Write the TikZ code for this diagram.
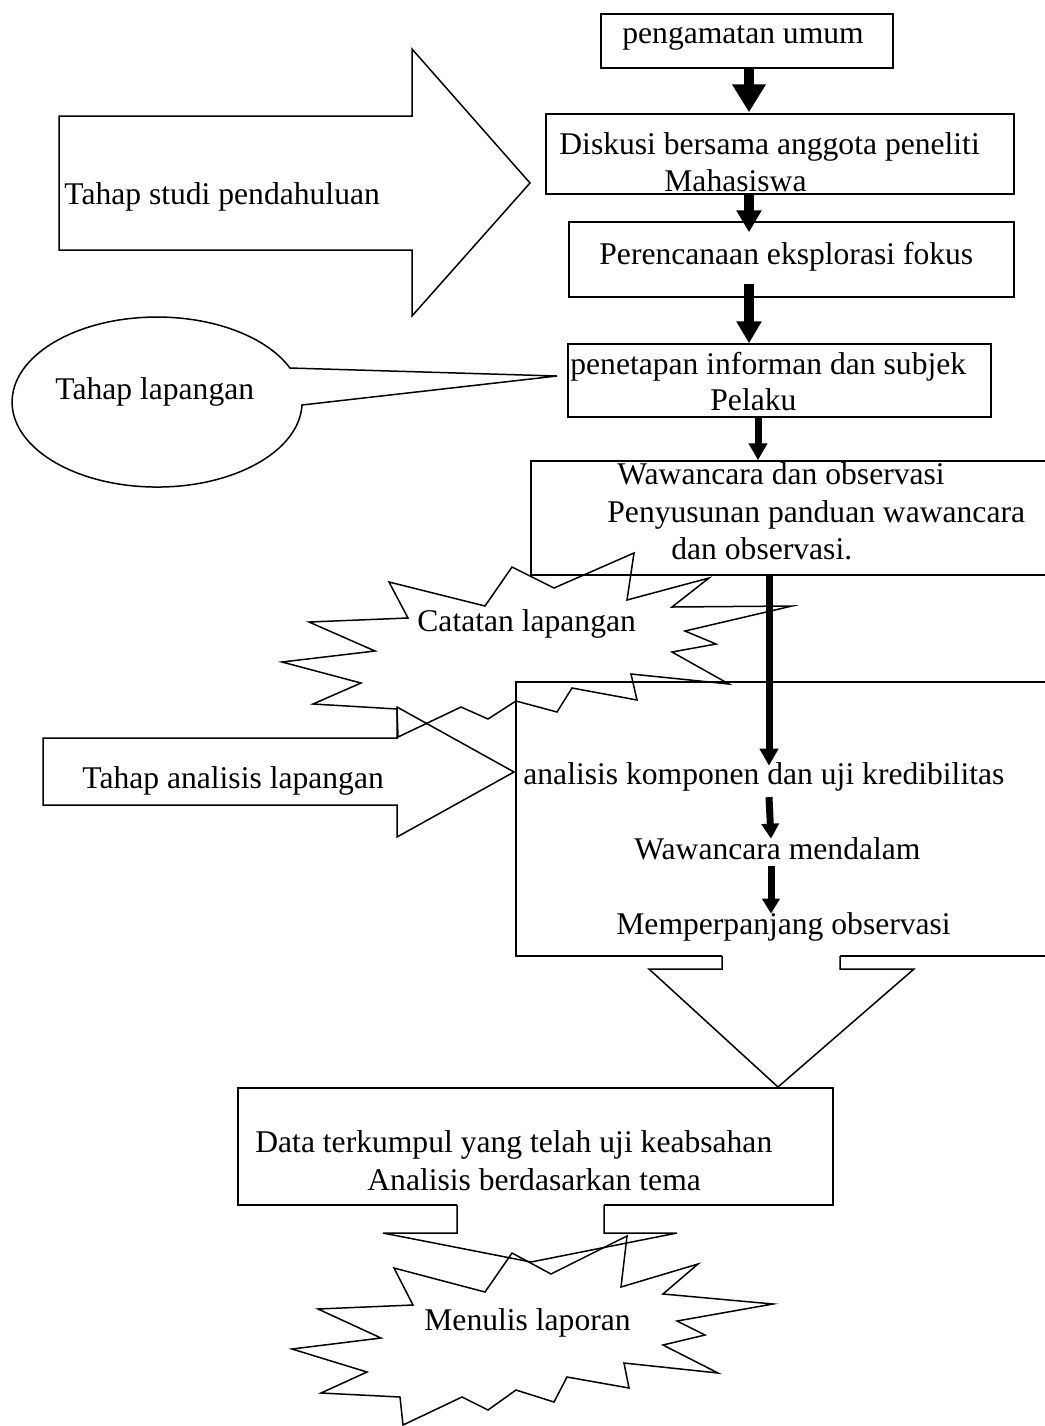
\documentclass[tikz,border=0pt]{standalone}
\usepackage{fontspec}
\setmainfont{Liberation Serif}
\usetikzlibrary{arrows.meta,fit}
\begin{document}
\begin{tikzpicture}[x=0.5pt,y=-0.5pt,
  outl/.style={draw=black, line width=0.75pt, line join=miter},
  boxst/.style={draw=black, line width=0.75pt, inner sep=0pt},
  lbl/.style={anchor=base west, inner sep=0pt, font=\fontsize{15.8}{18.5}\selectfont},
  arrA/.style={line width=5pt, -{Triangle[length=14pt,width=16pt]}},
  arrB/.style={line width=5pt, -{Triangle[length=11pt,width=12pt]}},
  arrC/.style={line width=3.5pt, -{Triangle[length=8.5pt,width=9pt]}},
  arrD/.style={line width=3.5pt, -{Triangle[length=7.5pt,width=8.5pt]}}]
\useasboundingbox (0,0) rectangle (1045,1426);
\fill[white] (0,0) rectangle (1045,1426);
\clip (0,0) rectangle (1045,1426);

\coordinate (xa) at (749,0);
\coordinate (xb) at (758,0);
\coordinate (xc) at (769,0);
\coordinate (xd) at (771,0);

% ---- right column boxes
\node[boxst, fit={(601,14) (893,68)}] (b1) {};
\node[boxst, fit={(546,114) (1014,194)}] (b2) {};
\node[boxst, fit={(569,222) (1014,297)}] (b3) {};
\node[boxst, fit={(568,344) (991,417)}] (b4) {};
\node[boxst, fit={(531,461) (1070,575)}] (b5) {};

\node[lbl] (t1) at (622,43) {pengamatan umum};
\node[lbl] (t2a) at (559,154) {Diskusi bersama anggota peneliti};
\node[lbl] (t2b) at (664,191) {Mahasiswa};
\node[lbl] (t3) at (599,264) {Perencanaan eksplorasi fokus};
\node[lbl] (t4a) at (570,374) {penetapan informan dan subjek};
\node[lbl] (t4b) at (710,410) {Pelaku};
\node[lbl] (t5a) at (617,484) {Wawancara dan observasi};
\node[lbl] (t5b) at (607,522) {Penyusunan panduan wawancara};
\node[lbl] (t5c) at (671,559) {dan observasi.};

% ---- study arrow
\draw[outl] (59,116) -- (412,116) -- (412,49) -- (530,183) -- (412,316) -- (412,250) -- (59,250) -- cycle;
\node[lbl] (ts) at (64,204) {Tahap studi pendahuluan};

% ---- callout
\draw[outl] (302,405) arc[start angle=2, end angle=336.4, x radius=145, y radius=85] -- (557,376) -- cycle;
\node[lbl] (tl) at (55,399) {Tahap lapangan};

% ---- analysis box with down arrow
\node[draw=none, inner sep=0pt, fit={(516,682) (1070,956)}] (ba) {};
\draw[outl] (722,956) -- (516,956) -- (516,682) -- (1070,682);
\draw[outl] (840,956) -- (1070,956);
\draw[outl] (722,956) -- (722,969) -- (649,969) -- (778,1087) -- (914,969) -- (840,969) -- (840,956);
\node[lbl] (ta1) at (523,784) {analisis komponen dan uji kredibilitas};
\node[lbl] (ta2) at (634,859) {Wawancara mendalam};
\node[lbl] (ta3) at (616,934) {Memperpanjang observasi};

% ---- analysis arrow
\draw[outl] (43,738) -- (397,738) -- (397,707) -- (514,772) -- (397,837) -- (397,805) -- (43,805) -- cycle;
\node[lbl] (tan) at (82,788) {Tahap analisis lapangan};

% ---- Catatan star
\draw[outl] (512,567) -- (554,588) -- (634,553) -- (627,600) -- (709,578) -- (672,607) -- (792,606) -- (685,631) -- (716,644) -- (672,652) -- (729,684) -- (631,674) -- (637,700) -- (572,688) -- (557,712) -- (516,701) -- (488,719) -- (461,707) -- (398,737) -- (397,709) -- (313,704) -- (361,683) -- (282,662) -- (375,651) -- (309,622) -- (408,618) -- (389,582) -- (485,606) -- cycle;
\node[lbl] (tc) at (417,631) {Catatan lapangan};

% ---- data box
\node[draw=none, inner sep=0pt, fit={(238,1088) (833,1205)}] (bd) {};
\draw[outl] (457,1205) -- (238,1205) -- (238,1088) -- (833,1088) -- (833,1205) -- (604,1205);
\draw[outl] (457,1205) -- (457,1233) -- (383,1233) -- (531,1262) -- (677,1233) -- (604,1233) -- (604,1205);
\node[lbl] (td1) at (255,1152) {Data terkumpul yang telah uji keabsahan};
\node[lbl] (td2) at (367,1190) {Analisis berdasarkan tema};

% ---- Menulis star
\draw[outl] (512,1253) -- (551,1274) -- (627,1236) -- (621,1287) -- (698,1264) -- (663,1294) -- (773,1304) -- (677,1321) -- (705,1335) -- (663,1345) -- (718,1373) -- (624,1363) -- (629,1388) -- (567,1377) -- (554,1402) -- (516,1390) -- (488,1410) -- (462,1397) -- (403,1425) -- (400,1397) -- (321,1393) -- (367,1372) -- (292,1349) -- (381,1338) -- (318,1309) -- (413,1305) -- (394,1268) -- (485,1292) -- cycle;
\node[lbl] (tm) at (424,1330) {Menulis laporan};

% ---- connectors
\draw[arrA] (xa |- b1.south) -- ([yshift=0.5pt]xa |- b2.north);
\draw[arrB] (xa |- b2.south) -- ([yshift=-5.5pt]xa |- b3.north);
\draw[arrB] ([yshift=7pt]xa |- b3.south) -- (xa |- b4.north);
\draw[arrC] (xb |- b4.south) -- (xb |- b5.north);
\draw[arrC] (xc |- b5.south) -- ([yshift=-2pt]xc |- ta1.north);
\draw[arrD] ([yshift=-3pt]xc |- ta1.south) -- ([yshift=-1pt]xd |- ta2.north);
\draw[arrD] ([yshift=-3pt]xd |- ta2.south) -- ([yshift=-1pt]xd |- ta3.north);
\end{tikzpicture}
\end{document}
